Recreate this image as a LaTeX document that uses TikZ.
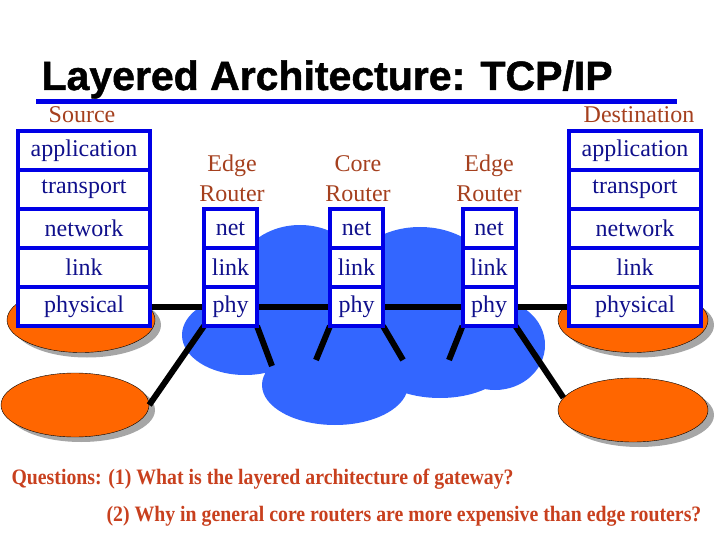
\documentclass[tikz,border=0pt]{standalone}
\usepackage{fontspec}
\setmainfont{Liberation Serif}
\newfontfamily\titlefont{Liberation Sans Bold}[FakeBold=1.2]
\usetikzlibrary{positioning,shapes.geometric,shadows}

\definecolor{stackblue}{RGB}{0,0,230}
\definecolor{layertext}{RGB}{16,16,140}
\definecolor{cloudblue}{RGB}{51,102,255}
\definecolor{hostorange}{RGB}{255,102,0}
\definecolor{labelbrown}{RGB}{165,64,30}
\definecolor{questred}{RGB}{200,64,30}

\pgfdeclarelayer{background}
\pgfdeclarelayer{wires}
\pgfsetlayers{background,wires,main}

\newcommand{\narrowtext}[1]{\scalebox{0.9}[1]{#1}}

\begin{document}
\begin{tikzpicture}[x=1pt, y=-1pt,
  layer/.style={draw=stackblue, line width=4pt, fill=white, text=layertext,
    font=\fontsize{24}{28}\selectfont, inner sep=0pt, outer sep=0pt, minimum height=39pt},
  hostlayer/.style={layer, minimum width=132pt},
  routerlayer/.style={layer, minimum width=53pt},
  caption/.style={text=labelbrown, font=\fontsize{24}{30}\selectfont, align=center},
  host/.style={ellipse, draw=black, thin, fill=hostorange, minimum width=148pt, minimum height=65pt,
    drop shadow={shadow xshift=6pt, shadow yshift=-5pt, fill=black!35, opacity=1}},
  question/.style={anchor=base west, text=questred, font=\bfseries\fontsize{22}{26}\selectfont},
  wire/.style={line width=6pt, black}]
\useasboundingbox (0,0) rectangle (720,540);

% title
\node[anchor=base west, font=\titlefont\fontsize{41}{48}\selectfont] (title) at (38,90) {Layered Architecture: TCP/IP};
\draw[stackblue, line width=5pt] (36,102) -- (677,102);

% cloud and hosts
\begin{pgfonlayer}{background}
\fill[cloudblue] (300,280) ellipse [x radius=65, y radius=55];
\fill[cloudblue] (420,285) ellipse [x radius=75, y radius=58];
\fill[cloudblue] (245,335) ellipse [x radius=63, y radius=40];
\fill[cloudblue] (335,385) ellipse [x radius=73, y radius=40];
\fill[cloudblue] (440,360) ellipse [x radius=70, y radius=38];
\fill[cloudblue] (495,345) ellipse [x radius=50, y radius=45];
\fill[cloudblue] (350,320) ellipse [x radius=110, y radius=60];
\node[host] (hostA) at (81,320) {};
\node[host, minimum height=64pt] (hostB) at (75,405) {};
\node[host, minimum width=150pt] (hostC) at (633,320) {};
\node[host, minimum width=150pt, minimum height=64pt] (hostD) at (633,410) {};
\end{pgfonlayer}

% source stack
\node[caption] (src-label) at (82,115) {Source};
\node[hostlayer] (src-app) at (84,150.5) {application};
\node[hostlayer, below=0pt of src-app] (src-trans) {transport};
\node[hostlayer, below=0pt of src-trans] (src-net) {network};
\node[hostlayer, below=0pt of src-net] (src-link) {link};
\node[hostlayer, below=0pt of src-link] (src-phy) {physical};

% destination stack
\node[caption] (dst-label) at (639,115) {Destination};
\node[hostlayer] (dst-app) at (635,150.5) {application};
\node[hostlayer, below=0pt of dst-app] (dst-trans) {transport};
\node[hostlayer, below=0pt of dst-trans] (dst-net) {network};
\node[hostlayer, below=0pt of dst-net] (dst-link) {link};
\node[hostlayer, below=0pt of dst-link] (dst-phy) {physical};

% routers
\node[caption] (e1-label) at (232,178) {Edge\\Router};
\node[routerlayer] (e1-net) at (230.5,228.5) {net};
\node[routerlayer, below=0pt of e1-net] (e1-link) {link};
\node[routerlayer, below=0pt of e1-link] (e1-phy) {phy};

\node[caption] (core-label) at (358,179) {Core\\Router};
\node[routerlayer] (core-net) at (356.5,228.5) {net};
\node[routerlayer, below=0pt of core-net] (core-link) {link};
\node[routerlayer, below=0pt of core-link] (core-phy) {phy};

\node[caption] (e2-label) at (489,178) {Edge\\Router};
\node[routerlayer] (e2-net) at (489,228.5) {net};
\node[routerlayer, below=0pt of e2-net] (e2-link) {link};
\node[routerlayer, below=0pt of e2-link] (e2-phy) {phy};

% links
\coordinate (e1-stub) at (272,366);
\coordinate (core-lstub) at (316,360);
\coordinate (core-rstub) at (403,360);
\coordinate (e2-stub) at (449,360);
\begin{pgfonlayer}{wires}
\draw[wire] (src-phy.east) -- (e1-phy.west);
\draw[wire] (e1-phy.east) -- (core-phy.west);
\draw[wire] (core-phy.east) -- (e2-phy.west);
\draw[wire] (e2-phy.east) -- (dst-phy.west);
\draw[wire] (e1-phy.south west) -- (hostB.east);
\draw[wire] (e1-phy.south east) -- (e1-stub);
\draw[wire] (core-phy.south west) -- (core-lstub);
\draw[wire] (core-phy.south east) -- (core-rstub);
\draw[wire] (e2-phy.south west) -- (e2-stub);
\draw[wire] (e2-phy.south east) -- (hostD.170);
\end{pgfonlayer}

% questions
\node[question] (q1) at (8,484) {\narrowtext{Questions: (1) What is the layered architecture of gateway?}};
\node[question] (q2) at (103,521) {\narrowtext{(2) Why in general core routers are more expensive than edge routers?}};
\end{tikzpicture}
\end{document}
